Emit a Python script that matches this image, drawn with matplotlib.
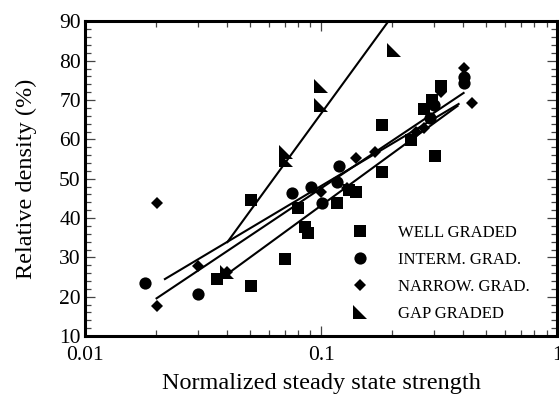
import matplotlib
matplotlib.use("Agg")
import matplotlib.pyplot as plt
from matplotlib.path import Path
from matplotlib.ticker import FixedLocator, LogLocator, NullFormatter, MultipleLocator
import numpy as np

plt.rcParams['font.family'] = ['Liberation Serif', 'DejaVu Serif']

# ---- data ----
well_x = [0.0361, 0.0507, 0.0507, 0.0705, 0.080, 0.0856, 0.088, 0.117, 0.131, 0.140,
          0.181, 0.181, 0.240, 0.303, 0.272, 0.294, 0.321]
well_y = [24.5, 44.6, 22.7, 29.6, 42.5, 37.7, 36.2, 43.8, 47.1, 46.6,
          63.7, 51.7, 59.8, 55.8, 67.7, 70.0, 73.6]

interm_x = [0.0179, 0.030, 0.0755, 0.0907, 0.101, 0.117, 0.119, 0.29, 0.30, 0.401, 0.401]
interm_y = [23.5, 20.7, 46.4, 47.9, 43.8, 49.2, 53.2, 65.4, 68.8, 74.4, 75.9]

narrow_x = [0.0201, 0.0201, 0.030, 0.040, 0.100, 0.129, 0.140, 0.169, 0.252, 0.272,
            0.321, 0.401, 0.434]
narrow_y = [43.8, 17.6, 27.8, 26.2, 46.6, 47.6, 55.3, 56.8, 61.9, 62.9,
            72.0, 78.2, 69.3]

gap_x = [0.040, 0.0712, 0.0712, 0.100, 0.100, 0.203]
gap_y = [26.2, 56.8, 54.7, 73.6, 68.8, 82.7]

# fitted trend lines (end points)
interm_fit_x = [0.0218, 0.382]
interm_fit_y = [24.5, 69.0]
narrow_fit_x = [0.0201, 0.401]
narrow_fit_y = [19.6, 71.8]
well_fit_x = [0.0401, 0.378]
well_fit_y = [25.8, 68.5]
gap_fit_x = [0.0401, 0.203]
gap_fit_y = [33.9, 91.9]

labels = ["WELL GRADED", "INTERM. GRAD.", "NARROW. GRAD.", "GAP GRADED"]
x_ticks = [0.01, 0.1, 1]
x_ticklabels = ["0.01", "0.1", "1"]
y_ticks = [10, 20, 30, 40, 50, 60, 70, 80, 90]

# ---- figure ----
fig = plt.figure(figsize=(5.59, 4.03), dpi=100)
ax = fig.add_axes([0.152, 0.166, 0.845, 0.781])

gap_marker = Path([(-1, 1), (-1, -1), (1, -1), (-1, 1)],
                  [Path.MOVETO, Path.LINETO, Path.LINETO, Path.CLOSEPOLY])

for fx, fy in [(interm_fit_x, interm_fit_y), (narrow_fit_x, narrow_fit_y),
               (well_fit_x, well_fit_y), (gap_fit_x, gap_fit_y)]:
    ax.plot(fx, fy, color='black', lw=1.5, zorder=2)

h1, = ax.plot(well_x, well_y, ls='none', marker='s', ms=9.2, color='black', mew=0, zorder=3)
h2, = ax.plot(interm_x, interm_y, ls='none', marker='o', ms=8.8, color='black', mew=0, zorder=3)
h3, = ax.plot(narrow_x, narrow_y, ls='none', marker='D', ms=6.5, color='black', mew=0, zorder=3)
h4, = ax.plot(gap_x, gap_y, ls='none', marker=gap_marker, ms=9.5, color='black', mew=0, zorder=3)

ax.set_xscale('log')
ax.set_xlim(0.01, 1)
ax.set_ylim(10, 90)

ax.xaxis.set_major_locator(FixedLocator(x_ticks))
ax.set_xticklabels(x_ticklabels)
ax.xaxis.set_minor_locator(LogLocator(base=10, subs=np.arange(2, 10)))
ax.xaxis.set_minor_formatter(NullFormatter())
ax.yaxis.set_major_locator(FixedLocator(y_ticks))
ax.yaxis.set_minor_locator(MultipleLocator(2))

ax.tick_params(which='both', direction='in', top=True, right=True, labelsize=15.5,
               width=0.9, color='#444444')
ax.tick_params(which='major', length=7.5)
ax.tick_params(which='minor', length=4)
ax.tick_params(axis='x', pad=7)
ax.tick_params(axis='y', pad=3)

for sp in ax.spines.values():
    sp.set_linewidth(2.2)

ax.set_xlabel("Normalized steady state strength", fontsize=17.5, labelpad=6)
ax.set_ylabel("Relative density (%)", fontsize=17.5, labelpad=16)

ax.legend([h1, h2, h3, h4], labels, loc='center left', bbox_to_anchor=(0.564, 0.199),
          frameon=False, fontsize=12, handlelength=1.0, handletextpad=1.78,
          borderpad=0, borderaxespad=0, labelspacing=0.67, numpoints=1)

fig.savefig("out.png", dpi=100)
